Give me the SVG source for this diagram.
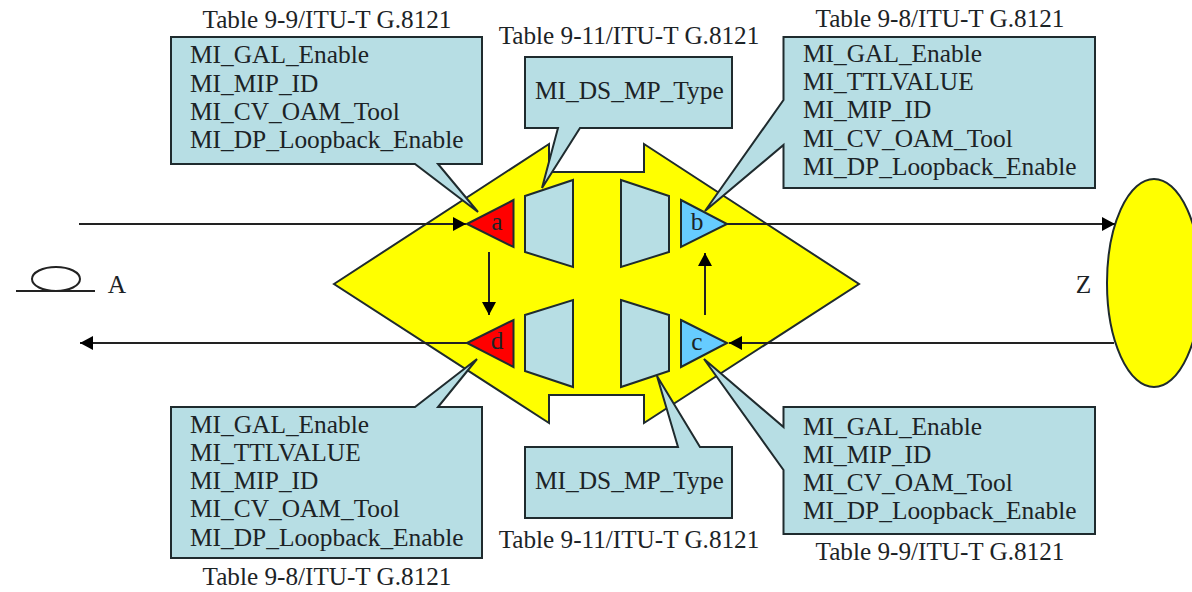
<svg xmlns="http://www.w3.org/2000/svg" width="1192" height="592" viewBox="0 0 1192 592">
<defs>
<marker id="ah" markerUnits="userSpaceOnUse" markerWidth="14" markerHeight="15" refX="13" refY="7.500" orient="auto"><path d="M0,0.500 L13,7.500 L0,14.500 Z" fill="#000"/></marker>
</defs>
<style>
text{font-family:"Liberation Serif","Times New Roman",serif;font-size:25.400px;fill:#1c2326}
.t{font-size:25.200px;text-anchor:middle}
.s{stroke:#1f2b2e;stroke-width:2;stroke-linejoin:miter}
.c{fill:#b7dee4}
.l{fill:none;stroke:#222;stroke-width:2}
.m{text-anchor:middle}
</style>
<rect width="1192" height="592" fill="#fff"/>
<g id="network-element"><path class="s" fill="#ffff00" d="M334,284 L549,144 V172 H644 V144 L859,284 L644,423 V395 H549 V423 Z"/></g>
<g id="far-end"><ellipse class="s" fill="#ffff00" cx="1154" cy="283" rx="47" ry="104"/><text x="1083.500" y="293" class="m">Z</text></g>
<g id="connectors">
<line class="l" x1="79" y1="224" x2="466" y2="224" marker-end="url(#ah)"/>
<line class="l" x1="727" y1="224" x2="1115" y2="224" marker-end="url(#ah)"/>
<line class="l" x1="1114" y1="343" x2="729" y2="343" marker-end="url(#ah)"/>
<line class="l" x1="467" y1="343" x2="80" y2="343" marker-end="url(#ah)"/>
<line class="l" x1="489" y1="252" x2="489" y2="315" marker-end="url(#ah)"/>
<line class="l" x1="705" y1="315" x2="705" y2="253" marker-end="url(#ah)"/>
</g>
<g id="near-end"><ellipse class="l" cx="56" cy="279" rx="24" ry="12"/><line class="l" x1="16" y1="291" x2="95" y2="291"/><text x="117" y="293" class="m">A</text></g>
<g id="tri-a"><path class="s" fill="#ff0000" d="M467,224 L513.500,200 V247 Z"/><text x="497" y="230" class="m">a</text></g>
<g id="tri-d"><path class="s" fill="#ff0000" d="M467,343 L513.500,320 V367 Z"/><text x="497" y="349" class="m">d</text></g>
<g id="tri-b"><path class="s" fill="#66ccff" d="M681,200 L727,224 L681,247 Z"/><text x="697" y="230" class="m">b</text></g>
<g id="tri-c"><path class="s" fill="#66ccff" d="M681,320 L727,343 L681,367 Z"/><text x="697" y="350" class="m">c</text></g>
<g id="trap-1"><path class="s c" d="M525,196 L573,180 V267 L525,252 Z"/></g>
<g id="trap-2"><path class="s c" d="M525,315 L573,300 V387 L525,371 Z"/></g>
<g id="trap-3"><path class="s c" d="M621,180 L669,196 V252 L621,267 Z"/></g>
<g id="trap-4"><path class="s c" d="M621,300 L669,315 V371 L621,387 Z"/></g>
<g id="callout-a">
<path class="s c" d="M171,37 H482 V164 H438 L478,212 L415,164 H171 Z"/>
<text x="327" y="28" class="t">Table 9-9/ITU-T G.8121</text>
<text x="190" y="63">MI_GAL_Enable</text><text x="190" y="92">MI_MIP_ID</text><text x="190" y="120">MI_CV_OAM_Tool</text><text x="190" y="148">MI_DP_Loopback_Enable</text>
</g>
<g id="callout-mp-top">
<path class="s c" d="M525,57 H732 V128 H580 L542,188 L558,128 H525 Z"/>
<text x="629" y="44" class="t">Table 9-11/ITU-T G.8121</text>
<text x="535" y="99">MI_DS_MP_Type</text>
</g>
<g id="callout-b">
<path class="s c" d="M783.500,37 H1095 V188 H783.500 V145 L705,211 L783.500,100 Z"/>
<text x="940" y="27" class="t">Table 9-8/ITU-T G.8121</text>
<text x="803" y="62">MI_GAL_Enable</text><text x="803" y="90">MI_TTLVALUE</text><text x="803" y="118">MI_MIP_ID</text><text x="803" y="147">MI_CV_OAM_Tool</text><text x="803" y="175">MI_DP_Loopback_Enable</text>
</g>
<g id="callout-d">
<path class="s c" d="M171,407 H415 L477,359 L438,407 H482 V558 H171 Z"/>
<text x="327" y="585" class="t">Table 9-8/ITU-T G.8121</text>
<text x="190" y="433">MI_GAL_Enable</text><text x="190" y="461">MI_TTLVALUE</text><text x="190" y="489">MI_MIP_ID</text><text x="190" y="517">MI_CV_OAM_Tool</text><text x="190" y="546">MI_DP_Loopback_Enable</text>
</g>
<g id="callout-mp-bottom">
<path class="s c" d="M525,447 H678 L657,376 L700,447 H732 V518 H525 Z"/>
<text x="629" y="548" class="t">Table 9-11/ITU-T G.8121</text>
<text x="535" y="489">MI_DS_MP_Type</text>
</g>
<g id="callout-c">
<path class="s c" d="M783.500,407 H1095 V534 H783.500 V470 L704,359 L783.500,427 Z"/>
<text x="940" y="560" class="t">Table 9-9/ITU-T G.8121</text>
<text x="803" y="435">MI_GAL_Enable</text><text x="803" y="463">MI_MIP_ID</text><text x="803" y="491">MI_CV_OAM_Tool</text><text x="803" y="519">MI_DP_Loopback_Enable</text>
</g>
</svg>
